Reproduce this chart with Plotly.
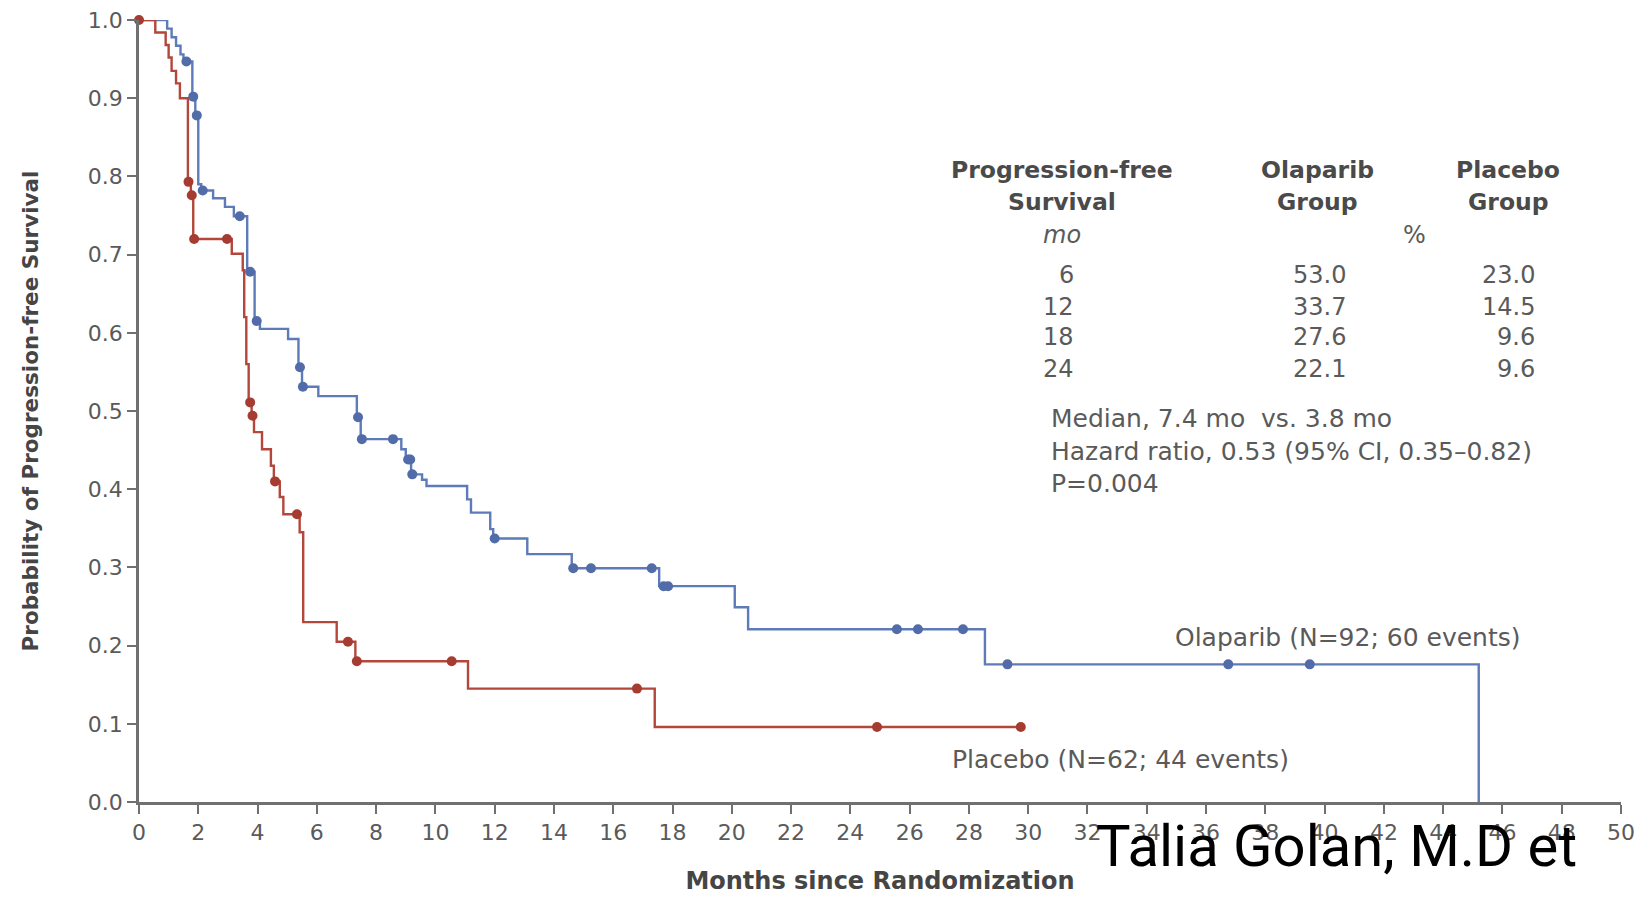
import numpy as np
import plotly.graph_objects as go

# ---------------- data ----------------
ola_t = [0, 0.95, 1.1, 1.25, 1.4, 1.5, 1.8, 1.9, 2.0, 2.1, 2.5, 2.9, 3.2, 3.65, 3.9, 4.08,
         5.03, 5.38, 5.5, 6.05, 7.35, 7.48, 8.85, 9.0, 9.18, 9.55, 9.7, 11.07, 11.2, 11.85,
         11.95, 13.1, 14.6, 17.55, 20.1, 20.55, 28.54, 45.2]
ola_s = [1.0, 0.989, 0.978, 0.967, 0.956, 0.947, 0.902, 0.878, 0.79, 0.782, 0.772, 0.761,
         0.749, 0.678, 0.615, 0.605, 0.592, 0.556, 0.531, 0.519, 0.492, 0.464, 0.451, 0.438,
         0.419, 0.412, 0.404, 0.387, 0.370, 0.349, 0.337, 0.317, 0.299, 0.276, 0.249, 0.221,
         0.176, 0.0]
ola_censor = [1.6, 1.83, 1.95, 2.15, 3.4, 3.75, 3.97, 5.43, 5.53, 7.39, 7.52, 8.57, 9.08,
              9.15, 9.22, 12.0, 14.65, 15.25, 17.3, 17.7, 17.85, 25.57, 26.28, 27.8, 29.3,
              36.75, 39.5]
ola_end = 45.2

pla_t = [0, 0.55, 0.9, 1.0, 1.1, 1.25, 1.38, 1.65, 1.75, 1.83, 3.13, 3.5, 3.55, 3.62, 3.7,
         3.8, 3.88, 4.15, 4.45, 4.55, 4.75, 4.87, 5.42, 5.54, 6.67, 7.3, 11.1, 17.4]
pla_s = [1.0, 0.984, 0.968, 0.952, 0.935, 0.919, 0.900, 0.793, 0.776, 0.720, 0.701, 0.68,
         0.62, 0.56, 0.511, 0.494, 0.473, 0.451, 0.430, 0.410, 0.390, 0.368, 0.345, 0.230,
         0.205, 0.180, 0.145, 0.096]
pla_censor = [0.0, 1.67, 1.78, 1.86, 2.97, 3.75, 3.83, 4.59, 5.33, 7.05, 7.35, 10.55, 16.8,
              24.9, 29.75]
pla_end = 29.75

table_months = ["6", "12", "18", "24"]
table_olaparib = ["53.0", "33.7", "27.6", "22.1"]
table_placebo = ["23.0", "14.5", "9.6", "9.6"]

x_ticks = list(range(0, 51, 2))
y_ticks = [round(0.1 * i, 1) for i in range(11)]

BLUE = "#5d7bb8"
BLUE_M = "#516ca8"
RED = "#b3473b"
RED_M = "#a63b31"
GREY = "#707070"
TXT = "#5a5a5a"
FONT = "DejaVu Sans"

W, H = 1642, 897
L, R, T, B = 139, 21, 20, 95


def px(xp):
    return (xp - L) / (W - L - R)


def py(yp):
    return (H - B - yp) / (H - B - T)


def step_at(times, surv, c):
    i = np.searchsorted(np.asarray(times), c, side="right") - 1
    return surv[i]


fig = go.Figure()

for t, s, end, cens, lc, mc, name in [
    (ola_t, ola_s, ola_end, ola_censor, BLUE, BLUE_M, "Olaparib"),
    (pla_t, pla_s, pla_end, pla_censor, RED, RED_M, "Placebo"),
]:
    xs = list(t) + [end]
    ys = list(s) + [s[-1]]
    fig.add_trace(go.Scatter(x=xs, y=ys, mode="lines", line=dict(color=lc, width=2.4, shape="hv"),
                             name=name, showlegend=False, cliponaxis=False, hoverinfo="skip"))
    fig.add_trace(go.Scatter(x=cens, y=[step_at(t, s, c) for c in cens], mode="markers",
                             marker=dict(color=mc, size=10, line=dict(width=0)),
                             name=name + " censored", showlegend=False, cliponaxis=False))

axis_common = dict(showline=True, linecolor=GREY, linewidth=2.5, ticks="outside", ticklen=9,
                   tickwidth=2, tickcolor=GREY, showgrid=False, zeroline=False,
                   tickfont=dict(family=FONT, size=22, color=TXT))

fig.update_layout(
    width=W, height=H, margin=dict(l=L, r=R, t=T, b=B, autoexpand=False),
    paper_bgcolor="white", plot_bgcolor="white",
    xaxis=dict(range=[0, 50], tickvals=x_ticks, ticktext=[str(v) for v in x_ticks],
               title=dict(text="<b>Months since Randomization</b>", standoff=29,
                          font=dict(family=FONT, size=24, color="#454545")),
               **axis_common),
    yaxis=dict(range=[0, 1], tickvals=y_ticks, ticktext=[f"{v:.1f}" for v in y_ticks],
               title=dict(text="<b>Probability of Progression-free Survival</b>", standoff=44,
                          font=dict(family=FONT, size=21.5, color="#454545")),
               **axis_common),
)

ann = []


def add(text, x, y, xanchor="center", size=25, color=TXT, family=FONT):
    ann.append(dict(text=text, x=px(x), y=py(y), xref="paper", yref="paper", xanchor=xanchor,
                    yanchor="middle", showarrow=False,
                    font=dict(family=family, size=size, color=color)))


HEAD = "#4a4a4a"
add("<b>Progression-free</b>", 1062, 170, color=HEAD, size=23.5)
add("<b>Survival</b>", 1062, 202, color=HEAD, size=23.5)
add("<i>mo</i>", 1062, 235, size=24)
add("<b>Olaparib</b>", 1317, 170, color=HEAD, size=23.5)
add("<b>Group</b>", 1317, 202, color=HEAD, size=23.5)
add("<b>Placebo</b>", 1508, 170, color=HEAD, size=23.5)
add("<b>Group</b>", 1508, 202, color=HEAD, size=23.5)
add("%", 1414, 235, size=24)
row_y = [275, 307, 337, 369]
for m, o, p, yy in zip(table_months, table_olaparib, table_placebo, row_y):
    add(m, 1076, yy, xanchor="right", size=24)
    add(o, 1348, yy, xanchor="right", size=24)
    add(p, 1537, yy, xanchor="right", size=24)
add("Median, 7.4 mo  vs. 3.8 mo", 1049, 419, xanchor="left")
add("Hazard ratio, 0.53 (95% CI, 0.35\u20130.82)", 1049, 451, xanchor="left")
add("P=0.004", 1049, 483, xanchor="left")
add("Olaparib (N=92; 60 events)", 1173, 637, xanchor="left")
add("Placebo (N=62; 44 events)", 950, 759, xanchor="left")
add("Talia Golan, M.D et", 1094, 846, xanchor="left", size=58, color="#000000", family="Roboto")

fig.update_layout(annotations=ann)
fig.write_html("out.html")
